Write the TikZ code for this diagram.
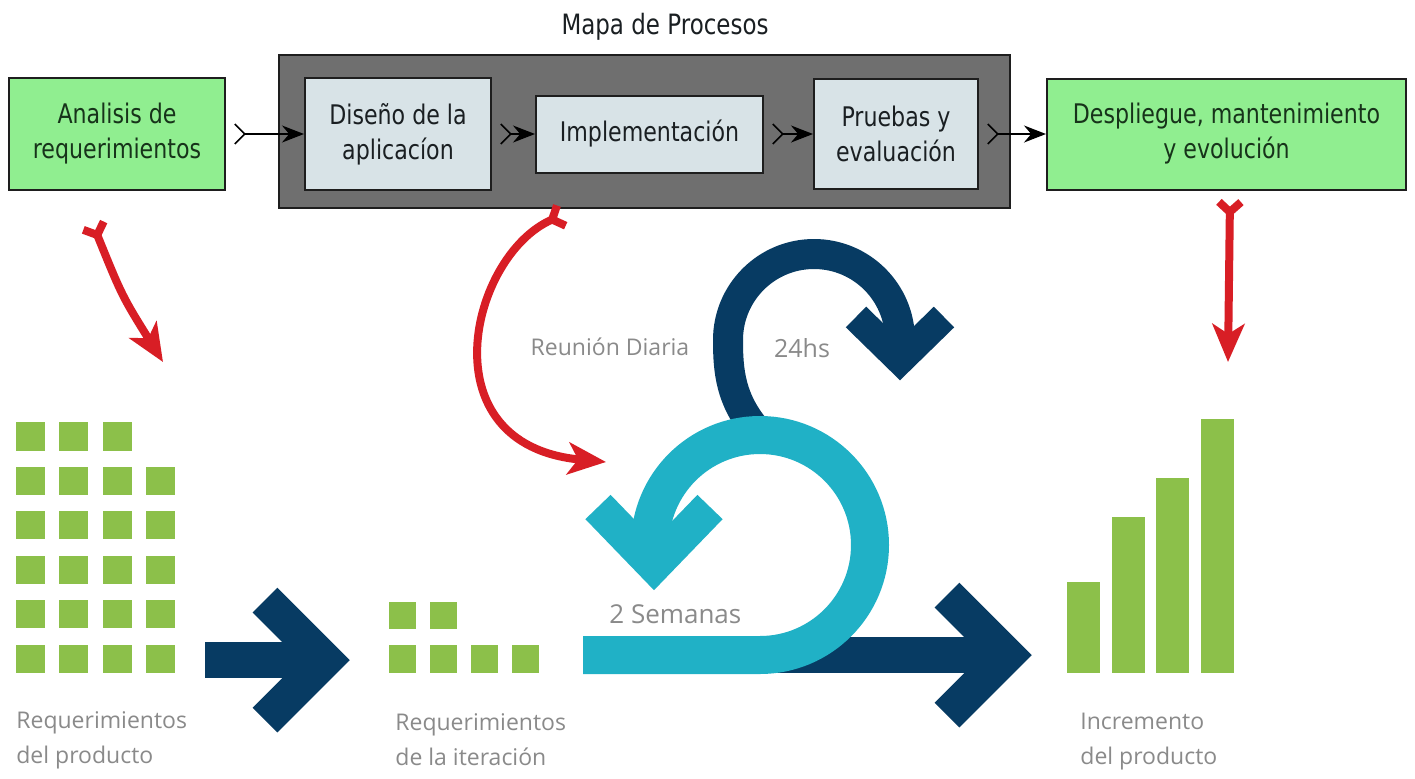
\documentclass[tikz,border=0pt]{standalone}
\usepackage{fontspec}
\setmainfont{DejaVu Sans}
\newfontfamily\boxfont{DejaVu Sans}[FakeStretch=0.82]
\newfontfamily\labelfont{Open Sans}
\usepackage{xcolor}
\definecolor{phaseGreen}{HTML}{90EE90}
\definecolor{phaseText}{HTML}{17331A}
\definecolor{boxBorder}{HTML}{1E1E1E}
\definecolor{frameGrey}{HTML}{6F6F6F}
\definecolor{stepBlue}{HTML}{D8E3E7}
\definecolor{stepText}{HTML}{1A1F22}
\definecolor{scrumNavy}{HTML}{073B63}
\definecolor{scrumTeal}{HTML}{20B1C6}
\definecolor{squareGreen}{HTML}{8CC04A}
\definecolor{labelGrey}{HTML}{8A8A8A}
\definecolor{redMark}{HTML}{D81E25}
\usetikzlibrary{arrows.meta}

\begin{document}
\begin{tikzpicture}[
        x=0.5pt, y=-0.5pt,
        frameBox/.style={
            draw=boxBorder,
            line width=1.2pt,
            fill=frameGrey,
            inner sep=0pt
        },
        outerBox/.style={
            draw=boxBorder,
            line width=1pt,
            fill=phaseGreen,
            text=phaseText,
            font=\boxfont\fontsize{13.5}{17.5}\selectfont,
            align=center,
            inner sep=0pt
        },
        innerBox/.style={
            outerBox,
            fill=stepBlue,
            text=stepText
        },
        flowArrow/.style={
            {Straight Barb[reversed, length=5pt, width=10pt]}-{Stealth[length=11pt, width=8.5pt]},
            line width=0.8pt,
            black,
            shorten <=4pt
        },
        redArrow/.style={
            {Straight Barb[reversed, length=5pt, width=11pt]}-{Stealth[length=19pt, width=16pt, inset=5pt]},
            line width=4pt,
            redMark
        },
        navyBand/.style={
            draw=scrumNavy,
            line width=18pt,
            line cap=butt,
            line join=miter
        },
        tealBand/.style={
            draw=scrumTeal,
            line width=19pt,
            line cap=butt,
            line join=miter
        },
        greyLabel/.style={
            font=\labelfont\fontsize{11.5}{17.5}\selectfont,
            text=labelGrey,
            align=left,
            inner sep=0pt
        },
        greenSq/.style={fill=squareGreen}
    ]
    \useasboundingbox (0,0) rectangle (1415,778);
    \fill[white] (0,0) rectangle (1415,778);

    % Process map on top
    \node[font=\boxfont\fontsize{14}{17}\selectfont, text=stepText] (mapTitle) at (665,27) {Mapa de Procesos};
    \node[frameBox, minimum width=365.5pt, minimum height=76.5pt] (phaseFrame) at (644.5,131.5) {};
    \node[outerBox, minimum width=108pt, minimum height=56pt] (analisis) at (117,134) {Analisis de\\requerimientos};
    \node[innerBox, minimum width=93pt, minimum height=56pt] (diseno) at (398,134) {Diseño de la\\aplicacíon};
    \node[innerBox, minimum width=113.5pt, minimum height=38.5pt] (implementacion) at (649.5,134) {Implementación};
    \node[innerBox, minimum width=82pt, minimum height=55pt] (pruebas) at (896,134) {Pruebas y\\evaluación};
    \node[outerBox, minimum width=179.5pt, minimum height=55.5pt] (despliegue) at (1226.5,134) {Despliegue, mantenimiento\\y evolución};

    \draw[flowArrow] (analisis) -- (diseno);
    \draw[flowArrow] (diseno) -- (implementacion);
    \draw[flowArrow] (implementacion) -- (pruebas);
    \draw[flowArrow] (pruebas) -- (despliegue);

    % Product backlog
    \foreach \col in {0,1,2}
        \fill[greenSq] ({16+43.3*\col},422) rectangle ++(29,29);
    \foreach \row in {1,...,5}
        \foreach \col in {0,...,3}
            \fill[greenSq] ({16+43.3*\col},{422+44.6*\row}) rectangle ++(29,28);

    % Sprint backlog
    \foreach \col in {0,1}
        \fill[greenSq] ({389+41*\col},602) rectangle ++(27,27);
    \foreach \col in {0,...,3}
        \fill[greenSq] ({389+41*\col},645) rectangle ++(27,28);

    % Increment bars
    \foreach \x/\top in {1067/582, 1112/517, 1156/478, 1201/419}
        \fill[greenSq] (\x,\top) rectangle ({\x+33},673);

    % Backlog to sprint arrow
    \draw[navyBand] (205,660) -- (328,660);
    \draw[navyBand, line width=17.5pt] (265,600) -- (325,660) -- (265,720);

    % Daily loop
    \draw[navyBand, line width=15pt] (758,432) .. controls (730,400) and (728,370) .. (728,340) arc[start angle=180, end angle=360, radius=86] -- (900,360);
    \draw[navyBand, line width=14.5pt] (856,317) -- (900,360) -- (944,317);

    % Output arrow
    \draw[navyBand] (740,655) -- (1010,655);
    \draw[navyBand, line width=17.5pt] (947,595) -- (1007,655) -- (947,715);

    % Sprint loop
    \draw[tealBand] (583,655) -- (760,655) arc[start angle=90, end angle=-180, radius=110] -- (654,566);
    \draw[tealBand, line width=17.5pt] (598,507) -- (654,565) -- (710,507);

    % Labels
    \node[greyLabel, anchor=west] (prodLabel) at (16,740) {Requerimientos\\del producto};
    \node[greyLabel, anchor=west] (iterLabel) at (395,740) {Requerimientos\\de la iteración};
    \node[greyLabel, anchor=west] (incrLabel) at (1080,742) {Incremento\\del producto};
    \node[greyLabel, font=\labelfont\fontsize{13}{15}\selectfont, anchor=west] (sprintLabel) at (609,614) {2 Semanas};
    \node[greyLabel] (dailyLabel) at (610,347) {Reunión Diaria};
    \node[greyLabel, font=\labelfont\fontsize{12.5}{15}\selectfont] (dayLabel) at (802,348) {24hs};

    % Red links
    \coordinate (analisisOut) at (92,222);
    \coordinate (backlogIn) at (163,362);
    \coordinate (frameOut) at (565,214);
    \coordinate (sprintIn) at (606,462);
    \coordinate (despliegueOut) at (1230,198);
    \coordinate (incrementIn) at (1228,362);
    \draw[redArrow] (analisisOut) .. controls (122,296) .. (backlogIn);
    \draw[redArrow] (frameOut) .. controls (470,255) and (425,445) .. (sprintIn);
    \draw[redArrow] (despliegueOut) -- (incrementIn);
\end{tikzpicture}
\end{document}
